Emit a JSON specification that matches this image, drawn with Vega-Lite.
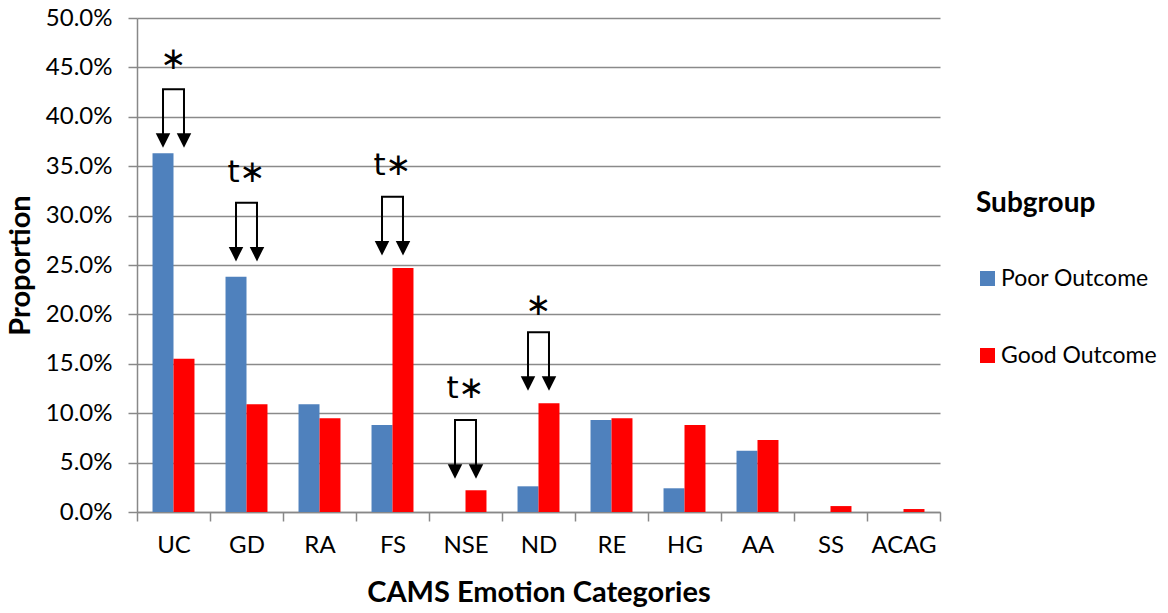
{
  "$schema": "https://vega.github.io/schema/vega-lite/v6.json",
  "width": 803,
  "height": 494,
  "autosize": {"type": "none"},
  "padding": {"left": 137, "top": 18, "right": 228, "bottom": 101},
  "config": {
    "font": "Lato",
    "view": {"stroke": null},
    "axis": {
      "labelColor": "#000000",
      "titleColor": "#000000",
      "labelFontSize": 24,
      "titleFontWeight": "bold",
      "domainColor": "#888888",
      "domainWidth": 1.5,
      "tickColor": "#888888",
      "tickWidth": 1.5,
      "tickSize": 9,
      "gridColor": "#8a8a8a",
      "gridWidth": 1.5
    }
  },
  "datasets": {
    "bars": [
      {"category": "UC", "subgroup": "Poor Outcome", "proportion": 0.363},
      {"category": "UC", "subgroup": "Good Outcome", "proportion": 0.155},
      {"category": "GD", "subgroup": "Poor Outcome", "proportion": 0.238},
      {"category": "GD", "subgroup": "Good Outcome", "proportion": 0.109},
      {"category": "RA", "subgroup": "Poor Outcome", "proportion": 0.109},
      {"category": "RA", "subgroup": "Good Outcome", "proportion": 0.095},
      {"category": "FS", "subgroup": "Poor Outcome", "proportion": 0.088},
      {"category": "FS", "subgroup": "Good Outcome", "proportion": 0.247},
      {"category": "NSE", "subgroup": "Poor Outcome", "proportion": 0.0},
      {"category": "NSE", "subgroup": "Good Outcome", "proportion": 0.022},
      {"category": "ND", "subgroup": "Poor Outcome", "proportion": 0.026},
      {"category": "ND", "subgroup": "Good Outcome", "proportion": 0.110},
      {"category": "RE", "subgroup": "Poor Outcome", "proportion": 0.093},
      {"category": "RE", "subgroup": "Good Outcome", "proportion": 0.095},
      {"category": "HG", "subgroup": "Poor Outcome", "proportion": 0.024},
      {"category": "HG", "subgroup": "Good Outcome", "proportion": 0.088},
      {"category": "AA", "subgroup": "Poor Outcome", "proportion": 0.062},
      {"category": "AA", "subgroup": "Good Outcome", "proportion": 0.073},
      {"category": "SS", "subgroup": "Poor Outcome", "proportion": 0.0},
      {"category": "SS", "subgroup": "Good Outcome", "proportion": 0.006},
      {"category": "ACAG", "subgroup": "Poor Outcome", "proportion": 0.0},
      {"category": "ACAG", "subgroup": "Good Outcome", "proportion": 0.003}
    ],
    "brackets": [
      {"category": "UC", "subgroup": "Poor Outcome", "y": 0.376, "seq": 1},
      {"category": "UC", "subgroup": "Poor Outcome", "y": 0.428, "seq": 2},
      {"category": "UC", "subgroup": "Good Outcome", "y": 0.428, "seq": 3},
      {"category": "UC", "subgroup": "Good Outcome", "y": 0.376, "seq": 4},
      {"category": "GD", "subgroup": "Poor Outcome", "y": 0.261, "seq": 1},
      {"category": "GD", "subgroup": "Poor Outcome", "y": 0.313, "seq": 2},
      {"category": "GD", "subgroup": "Good Outcome", "y": 0.313, "seq": 3},
      {"category": "GD", "subgroup": "Good Outcome", "y": 0.261, "seq": 4},
      {"category": "FS", "subgroup": "Poor Outcome", "y": 0.267, "seq": 1},
      {"category": "FS", "subgroup": "Poor Outcome", "y": 0.319, "seq": 2},
      {"category": "FS", "subgroup": "Good Outcome", "y": 0.319, "seq": 3},
      {"category": "FS", "subgroup": "Good Outcome", "y": 0.267, "seq": 4},
      {"category": "NSE", "subgroup": "Poor Outcome", "y": 0.041, "seq": 1},
      {"category": "NSE", "subgroup": "Poor Outcome", "y": 0.093, "seq": 2},
      {"category": "NSE", "subgroup": "Good Outcome", "y": 0.093, "seq": 3},
      {"category": "NSE", "subgroup": "Good Outcome", "y": 0.041, "seq": 4},
      {"category": "ND", "subgroup": "Poor Outcome", "y": 0.130, "seq": 1},
      {"category": "ND", "subgroup": "Poor Outcome", "y": 0.182, "seq": 2},
      {"category": "ND", "subgroup": "Good Outcome", "y": 0.182, "seq": 3},
      {"category": "ND", "subgroup": "Good Outcome", "y": 0.130, "seq": 4}
    ],
    "heads": [
      {"category": "UC", "subgroup": "Poor Outcome", "y": 0.376},
      {"category": "UC", "subgroup": "Good Outcome", "y": 0.376},
      {"category": "GD", "subgroup": "Poor Outcome", "y": 0.261},
      {"category": "GD", "subgroup": "Good Outcome", "y": 0.261},
      {"category": "FS", "subgroup": "Poor Outcome", "y": 0.267},
      {"category": "FS", "subgroup": "Good Outcome", "y": 0.267},
      {"category": "NSE", "subgroup": "Poor Outcome", "y": 0.041},
      {"category": "NSE", "subgroup": "Good Outcome", "y": 0.041},
      {"category": "ND", "subgroup": "Poor Outcome", "y": 0.130},
      {"category": "ND", "subgroup": "Good Outcome", "y": 0.130}
    ],
    "marks": [
      {"category": "UC", "label": "∗", "y": 0.448},
      {"category": "GD", "label": "t∗", "y": 0.334},
      {"category": "FS", "label": "t∗", "y": 0.341},
      {"category": "NSE", "label": "t∗", "y": 0.115},
      {"category": "ND", "label": "∗", "y": 0.199}
    ]
  },
  "layer": [
    {
      "data": {"name": "bars"},
      "mark": {"type": "bar"},
      "encoding": {
        "x": {
          "field": "category",
          "type": "nominal",
          "sort": ["UC", "GD", "RA", "FS", "NSE", "ND", "RE", "HG", "AA", "SS", "ACAG"],
          "scale": {"paddingInner": 0, "paddingOuter": 0},
          "axis": {
            "title": "CAMS Emotion Categories",
            "titleFontSize": 29,
            "titlePadding": 21,
            "labelAngle": 0,
            "labelPadding": 12,
            "tickBand": "extent",
            "grid": false
          }
        },
        "xOffset": {
          "field": "subgroup",
          "type": "nominal",
          "sort": ["Poor Outcome", "Good Outcome"],
          "scale": {"paddingInner": 0, "paddingOuter": 0.74}
        },
        "y": {
          "field": "proportion",
          "type": "quantitative",
          "scale": {"domain": [0, 0.5]},
          "axis": {
            "title": "Proportion",
            "titleFontSize": 29,
            "titlePadding": 10,
            "format": ".1%",
            "values": [0, 0.05, 0.1, 0.15, 0.2, 0.25, 0.3, 0.35, 0.4, 0.45, 0.5],
            "labelPadding": 16,
            "grid": true
          }
        },
        "color": {
          "field": "subgroup",
          "type": "nominal",
          "sort": ["Poor Outcome", "Good Outcome"],
          "scale": {"domain": ["Poor Outcome", "Good Outcome"], "range": ["#4F81BD", "#FF0000"]},
          "legend": {
            "title": "Subgroup",
            "orient": "none",
            "legendX": 839,
            "legendY": 172,
            "titleFontSize": 28,
            "titleFontWeight": "bold",
            "titleColor": "#000000",
            "titlePadding": 49,
            "labelFontSize": 23,
            "labelColor": "#000000",
            "labelOffset": 2,
            "labelLimit": 400,
            "symbolType": "square",
            "symbolSize": 225,
            "symbolStrokeWidth": 0,
            "rowPadding": 53
          }
        }
      }
    },
    {
      "data": {"name": "brackets"},
      "mark": {"type": "line", "color": "#000000", "strokeWidth": 2},
      "encoding": {
        "x": {"field": "category", "type": "nominal", "sort": ["UC", "GD", "RA", "FS", "NSE", "ND", "RE", "HG", "AA", "SS", "ACAG"]},
        "xOffset": {"field": "subgroup", "type": "nominal", "sort": ["Poor Outcome", "Good Outcome"]},
        "y": {"field": "y", "type": "quantitative"},
        "detail": {"field": "category"},
        "order": {"field": "seq", "type": "quantitative"}
      }
    },
    {
      "data": {"name": "heads"},
      "mark": {"type": "point", "shape": "M-1,-1L1,-1L0,1Z", "filled": true, "color": "#000000", "size": 210, "opacity": 1, "strokeWidth": 0},
      "encoding": {
        "x": {"field": "category", "type": "nominal", "sort": ["UC", "GD", "RA", "FS", "NSE", "ND", "RE", "HG", "AA", "SS", "ACAG"]},
        "xOffset": {"field": "subgroup", "type": "nominal", "sort": ["Poor Outcome", "Good Outcome"]},
        "y": {"field": "y", "type": "quantitative"}
      }
    },
    {
      "data": {"name": "marks"},
      "mark": {"type": "text", "font": "DejaVu Sans", "fontSize": 31, "color": "#000000", "baseline": "alphabetic", "align": "center"},
      "encoding": {
        "x": {"field": "category", "type": "nominal", "sort": ["UC", "GD", "RA", "FS", "NSE", "ND", "RE", "HG", "AA", "SS", "ACAG"]},
        "y": {"field": "y", "type": "quantitative"},
        "text": {"field": "label"}
      }
    }
  ]
}
